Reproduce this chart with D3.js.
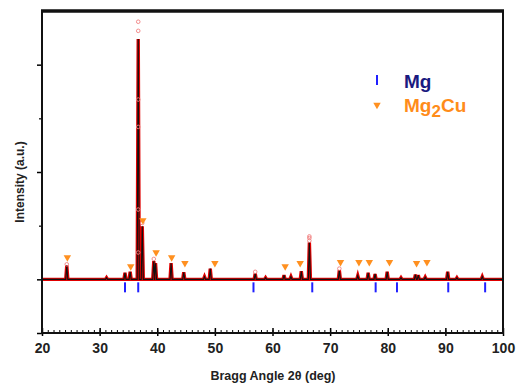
<!DOCTYPE html>
<html>
<head>
<meta charset="utf-8">
<script src="https://cdn.jsdelivr.net/npm/d3@7"></script>
<style>
	body { margin: 0; background: #fff; }
	text { font-family: "Liberation Sans", Arial, sans-serif; font-weight: bold; }
</style>
</head>
<body>
<div id="chart"></div>
<script>
// peak positions (deg) and heights (a.u., baseline = 0)
var peakPos = [24.3, 31.2, 34.4, 35.3, 36.7, 37.4, 39.4, 39.7, 42.4, 44.6, 48.2, 49.2, 57.0, 58.8,
	62.0, 63.2, 65.0, 66.4, 71.6, 74.8, 76.6, 77.8, 79.9, 82.3, 84.8, 85.3, 86.5, 90.4, 92.0, 96.4];
var peakInt = [0.26, 0.03, 0.12, 0.14, 4.48, 0.99, 0.34, 0.3, 0.3, 0.13, 0.05, 0.2, 0.11, 0.03,
	0.08, 0.05, 0.15, 0.69, 0.17, 0.07, 0.12, 0.1, 0.14, 0.03, 0.09, 0.08, 0.04, 0.14, 0.03, 0.05];

// observed points sitting off the fitted line
var obsPos = [36.7, 36.7, 36.7, 36.7, 36.7, 36.7, 37.4, 39.4, 66.4, 66.4, 66.4, 24.3, 71.6, 57.0];
var obsInt = [4.8, 4.63, 3.35, 2.84, 1.3, 0.5, 1.05, 0.38, 0.8, 0.77, 0.72, 0.28, 0.2, 0.14];

// Mg reflection markers
var mgPos = [34.4, 36.7, 56.7, 66.9, 77.9, 81.6, 90.5, 96.9];

// Mg2Cu markers
var cuPos = [24.4, 35.4, 37.5, 39.8, 42.5, 44.8, 50.0, 62.2, 64.8, 71.8, 75.0, 76.8, 80.3, 85.0, 86.8];
var cuInt = [0.41, 0.24, 1.1, 0.5, 0.41, 0.3, 0.3, 0.24, 0.3, 0.32, 0.32, 0.32, 0.32, 0.3, 0.32];

var xTicks = [20, 30, 40, 50, 60, 70, 80, 90, 100];
var yMajor = [-1, 0, 2, 4];
var yMinor = [1, 3];

var W = 516, H = 383;
var margin = { left: 42, right: 13, top: 11, bottom: 50 };
var pw = W - margin.left - margin.right;
var ph = H - margin.top - margin.bottom;

var svg = d3.select('#chart').append('svg')
	.attr('width', W)
	.attr('height', H);

var g = svg.append('g')
	.attr('transform', 'translate(' + margin.left + ',' + margin.top + ')');

var x = d3.scaleLinear().domain([20, 100]).range([0, pw]);
var y = d3.scaleLinear().domain([-1, 5]).range([ph, 0]);

// build the profile: narrow spike per peak on a flat baseline
var hw = 0.18;
var profile = [[20, 0]];
peakPos.forEach(function (p, i) {
	profile.push([p - hw, 0], [p, peakInt[i]], [p + hw, 0]);
});
profile.push([100, 0]);

var line = d3.line()
	.x(function (d) { return x(d[0]); })
	.y(function (d) { return y(d[1]); });

// observed (red, thick) then calculated (black)
g.append('path')
	.datum(profile)
	.attr('d', line)
	.attr('fill', 'none')
	.attr('stroke', '#e00000')
	.attr('stroke-width', 3.4);

g.append('path')
	.datum(profile)
	.attr('d', line)
	.attr('fill', 'none')
	.attr('stroke', '#111')
	.attr('stroke-width', 1.1);

g.selectAll('.obs')
	.data(obsPos)
	.enter().append('circle')
	.attr('class', 'obs')
	.attr('cx', function (d) { return x(d); })
	.attr('cy', function (d, i) { return y(obsInt[i]); })
	.attr('r', 1.8)
	.attr('fill', 'none')
	.attr('stroke', '#f08080')
	.attr('stroke-width', 0.9);

// Mg ticks
g.selectAll('.mg')
	.data(mgPos)
	.enter().append('line')
	.attr('class', 'mg')
	.attr('x1', function (d) { return x(d); })
	.attr('x2', function (d) { return x(d); })
	.attr('y1', y(0) + 3)
	.attr('y2', y(0) + 13)
	.attr('stroke', '#2020ff')
	.attr('stroke-width', 2);

// Mg2Cu triangles
var tri = d3.symbol().type(d3.symbolTriangle).size(24);
g.selectAll('.cu')
	.data(cuPos)
	.enter().append('path')
	.attr('class', 'cu')
	.attr('d', tri)
	.attr('transform', function (d, i) {
		return 'translate(' + x(d) + ',' + y(cuInt[i]) + ') rotate(180)';
	})
	.attr('fill', '#ff9020');

// axes
var xAxis = d3.axisBottom(x).tickValues(xTicks).tickSize(3).tickPadding(5);
var xg = g.append('g')
	.attr('transform', 'translate(0,' + ph + ')')
	.call(xAxis);
xg.selectAll('.tick line').attr('y1', -5).attr('y2', 3).attr('stroke-width', 1.5);
xg.selectAll('text').attr('font-size', 14).attr('fill', '#222').attr('dy', '0.85em');
xg.select('.domain').remove();

var xMinor = g.append('g')
	.attr('transform', 'translate(0,' + ph + ')')
	.call(d3.axisTop(x).ticks(80).tickSize(3).tickFormat(''));
xMinor.select('.domain').remove();
xMinor.selectAll('.tick line').attr('stroke-width', 1);

var yg = g.append('g')
	.call(d3.axisLeft(y).tickValues(yMajor).tickSize(5).tickFormat(''));
yg.select('.domain').remove();
yg.selectAll('.tick line').attr('stroke-width', 1.5);

var ygm = g.append('g')
	.call(d3.axisLeft(y).tickValues(yMinor).tickSize(3).tickFormat(''));
ygm.select('.domain').remove();
ygm.selectAll('.tick line').attr('stroke-width', 1.2);

// frame
g.append('rect')
	.attr('width', pw)
	.attr('height', ph)
	.attr('fill', 'none')
	.attr('stroke', '#111')
	.attr('stroke-width', 2);
g.append('line')
	.attr('x1', -1).attr('x2', pw + 1)
	.attr('y1', 0).attr('y2', 0)
	.attr('stroke', '#111')
	.attr('stroke-width', 3.5);

// axis titles
svg.append('text')
	.attr('x', 273).attr('y', 380)
	.attr('text-anchor', 'middle')
	.attr('font-size', 12.5)
	.attr('fill', '#222')
	.text('Bragg Angle 2\u03b8 (deg)');

svg.append('text')
	.attr('transform', 'translate(24,182) rotate(-90)')
	.attr('text-anchor', 'middle')
	.attr('font-size', 12)
	.attr('fill', '#222')
	.text('Intensity (a.u.)');

// legend
var lg = svg.append('g');
lg.append('line')
	.attr('x1', 377).attr('x2', 377)
	.attr('y1', 75).attr('y2', 85)
	.attr('stroke', '#2020ff')
	.attr('stroke-width', 2);
lg.append('text')
	.attr('x', 404).attr('y', 88)
	.attr('font-size', 19)
	.attr('fill', '#1a1a80')
	.text('Mg');
lg.append('path')
	.attr('d', tri)
	.attr('transform', 'translate(377,105) rotate(180)')
	.attr('fill', '#ff9020');
var t2 = lg.append('text')
	.attr('x', 404).attr('y', 112)
	.attr('font-size', 19)
	.attr('fill', '#ff8c1a');
t2.append('tspan').text('Mg');
t2.append('tspan').attr('dy', 5).attr('font-size', 17).text('2');
t2.append('tspan').attr('dy', -5).text('Cu');
</script>
</body>
</html>
